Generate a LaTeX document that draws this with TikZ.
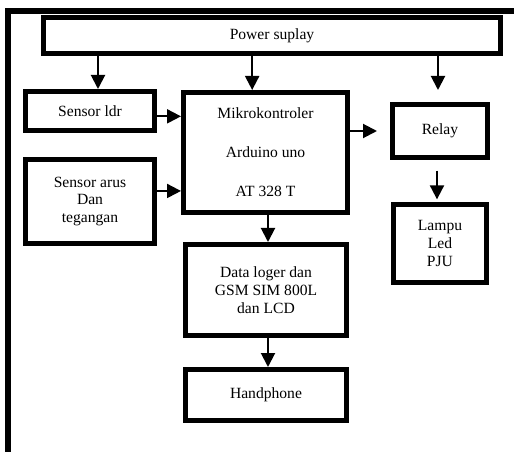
\documentclass[tikz,border=0pt]{standalone}
\usepackage{fontspec}
\setmainfont{Liberation Serif}
\usetikzlibrary{arrows.meta}
\begin{document}
\begin{tikzpicture}[x=0.75pt,y=-0.75pt,
  blk/.style={draw, line width=3.75pt, inner sep=0pt, align=center,
    font=\fontsize{11.7}{13.4}\selectfont},
  arr/.style={line width=1.5pt, -{Triangle[length=10.5pt,width=10.5pt]}}]
\useasboundingbox (0,0) rectangle (514,452);
\draw[line width=4.2pt] (8,452) -- (8,11) -- (514,11);
\node[blk, minimum width=342.75pt, minimum height=27pt] (ps) at (272,35.5) {Power suplay};
\node[blk, minimum width=96.75pt, minimum height=29.25pt] (ldr) at (90,111) {Sensor ldr};
\node[blk, minimum width=123pt, minimum height=90pt] (mk) at (265.5,152.5) {Mikrokontroler\\[15.8pt]Arduino uno\\[15.8pt]AT 328 T};
\node[blk, minimum width=96.75pt, minimum height=63pt] (arus) at (90,201.5) {Sensor arus\\Dan\\tegangan};
\node[blk, minimum width=71.25pt, minimum height=39.75pt] (relay) at (440,131) {Relay};
\node[blk, minimum width=69.75pt, minimum height=58.5pt] (lampu) at (440,243.5) {Lampu\\Led\\PJU};
\node[blk, minimum width=120.75pt, minimum height=68.25pt] (data) at (266,290) {Data loger dan\\GSM SIM 800L\\dan LCD};
\node[blk, minimum width=120.75pt, minimum height=38.25pt] (hp) at (266,395) {Handphone};
\draw[arr] ([xshift=6pt]ps.south -| ldr.north) -- ([xshift=6pt]ldr.north);
\draw[arr] ([xshift=-10pt]ps.south -| mk.north) -- ([xshift=-10pt]mk.north);
\draw[arr, shorten >=9pt] ([xshift=-1.5pt]ps.south -| relay.north) -- ([xshift=-1.5pt]relay.north);
\draw[arr] ([yshift=-4pt]ldr.east) -- ([yshift=-4pt]ldr.east -| mk.west);
\draw[arr] ([yshift=7.9pt]arus.east) -- ([yshift=7.9pt]arus.east -| mk.west);
\draw[arr, shorten >=9.75pt] (relay.west -| mk.east) -- (relay.west);
\draw[arr, shorten <=8pt, shorten >=2pt] ([xshift=-2.25pt]relay.south) -- ([xshift=-2.25pt]lampu.north);
\draw[arr] ([xshift=1.5pt]mk.south -| data.north) -- ([xshift=1.5pt]data.north);
\draw[arr] ([xshift=1.5pt]data.south) -- ([xshift=1.5pt]hp.north);
\end{tikzpicture}
\end{document}
